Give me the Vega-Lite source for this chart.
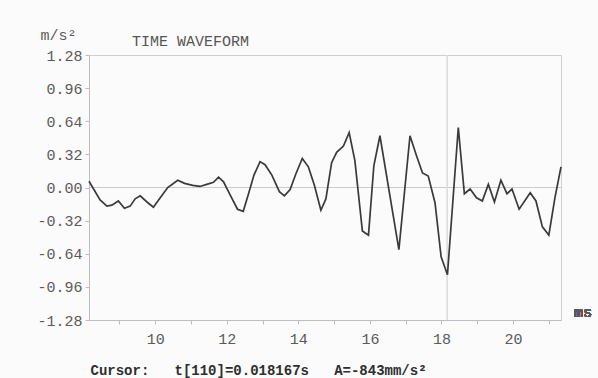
{
  "$schema": "https://vega.github.io/schema/vega-lite/v6.json",
  "autosize": {"type": "none"},
  "width": 472,
  "height": 265,
  "padding": {"left": 89, "top": 55, "right": 37, "bottom": 58},
  "background": "#fbfbfb",
  "title": {
    "text": "TIME WAVEFORM",
    "anchor": "start",
    "dx": 95,
    "offset": -22,
    "font": "Liberation Mono",
    "fontSize": 15,
    "fontWeight": "normal",
    "color": "#555555"
  },
  "config": {
    "view": {"stroke": "#cfcfcf", "strokeWidth": 1},
    "axis": {
      "labelFont": "Liberation Mono",
      "labelFontSize": 15,
      "labelColor": "#5a5a5a",
      "domainColor": "#bdbdbd",
      "tickColor": "#bdbdbd",
      "grid": false
    }
  },
  "data": {
    "values": [
      {"t": 8.15, "a": 0.06},
      {"t": 8.46, "a": -0.12},
      {"t": 8.65, "a": -0.18},
      {"t": 8.79, "a": -0.17},
      {"t": 8.97, "a": -0.13},
      {"t": 9.14, "a": -0.20},
      {"t": 9.30, "a": -0.18},
      {"t": 9.44, "a": -0.11},
      {"t": 9.58, "a": -0.08},
      {"t": 9.77, "a": -0.14},
      {"t": 9.95, "a": -0.19},
      {"t": 10.14, "a": -0.10},
      {"t": 10.35, "a": 0.0},
      {"t": 10.63, "a": 0.07},
      {"t": 10.82, "a": 0.04},
      {"t": 11.05, "a": 0.02},
      {"t": 11.25, "a": 0.01},
      {"t": 11.44, "a": 0.03},
      {"t": 11.63, "a": 0.05},
      {"t": 11.77, "a": 0.10},
      {"t": 11.91, "a": 0.055},
      {"t": 12.09, "a": -0.07},
      {"t": 12.30, "a": -0.21},
      {"t": 12.46, "a": -0.23},
      {"t": 12.60, "a": -0.07},
      {"t": 12.76, "a": 0.12},
      {"t": 12.93, "a": 0.25},
      {"t": 13.07, "a": 0.22},
      {"t": 13.26, "a": 0.12},
      {"t": 13.47, "a": -0.04},
      {"t": 13.61, "a": -0.08},
      {"t": 13.77, "a": -0.02},
      {"t": 13.93, "a": 0.13},
      {"t": 14.11, "a": 0.28},
      {"t": 14.28, "a": 0.20},
      {"t": 14.45, "a": 0.02},
      {"t": 14.63, "a": -0.22},
      {"t": 14.77, "a": -0.11},
      {"t": 14.93, "a": 0.24},
      {"t": 15.07, "a": 0.34},
      {"t": 15.26, "a": 0.40},
      {"t": 15.42, "a": 0.53},
      {"t": 15.58, "a": 0.26},
      {"t": 15.79, "a": -0.42},
      {"t": 15.96, "a": -0.46},
      {"t": 16.11, "a": 0.21},
      {"t": 16.28, "a": 0.50},
      {"t": 16.81, "a": -0.60},
      {"t": 17.12, "a": 0.50},
      {"t": 17.30, "a": 0.31},
      {"t": 17.47, "a": 0.14},
      {"t": 17.63, "a": 0.11},
      {"t": 17.82, "a": -0.15},
      {"t": 17.99, "a": -0.67},
      {"t": 18.167, "a": -0.843},
      {"t": 18.47, "a": 0.58},
      {"t": 18.64, "a": -0.06},
      {"t": 18.80, "a": -0.015},
      {"t": 18.98, "a": -0.10},
      {"t": 19.14, "a": -0.13},
      {"t": 19.31, "a": 0.03},
      {"t": 19.48, "a": -0.14},
      {"t": 19.66, "a": 0.07},
      {"t": 19.83, "a": -0.06},
      {"t": 19.97, "a": -0.015},
      {"t": 20.17, "a": -0.21},
      {"t": 20.48, "a": -0.05},
      {"t": 20.64, "a": -0.13},
      {"t": 20.82, "a": -0.38},
      {"t": 21.00, "a": -0.46},
      {"t": 21.17, "a": -0.10},
      {"t": 21.34, "a": 0.20}
    ]
  },
  "encoding": {
    "x": {
      "field": "t",
      "type": "quantitative",
      "scale": {"domain": [8.15, 21.34], "nice": false, "zero": false},
      "axis": {
        "values": [9, 10, 11, 12, 13, 14, 15, 16, 17, 18, 19, 20, 21],
        "labelExpr": "datum.value % 2 == 0 ? datum.label : ''",
        "tickSize": 4,
        "labelPadding": 7,
        "title": "Cursor:\u00a0\u00a0\u00a0t[110]=0.018167s\u00a0\u00a0\u00a0A=-843mm/s²",
        "titleFont": "Liberation Mono",
        "titleFontSize": 14,
        "titleFontWeight": "bold",
        "titleColor": "#2e2e2e",
        "titleAnchor": "start",
        "titleAlign": "left",
        "titleBaseline": "middle",
        "titleX": 1,
        "titleY": 50
      }
    },
    "y": {
      "field": "a",
      "type": "quantitative",
      "scale": {"domain": [-1.28, 1.28], "nice": false},
      "axis": {
        "values": [-1.28, -0.96, -0.64, -0.32, 0, 0.32, 0.64, 0.96, 1.28],
        "format": ".2f",
        "labelExpr": "replace(datum.label, '\u2212', '-')",
        "tickSize": 4,
        "labelPadding": 3,
        "title": "m/s²",
        "titleFont": "Liberation Mono",
        "titleFontSize": 15,
        "titleFontWeight": "normal",
        "titleColor": "#5a5a5a",
        "titleAngle": 0,
        "titleAlign": "left",
        "titleBaseline": "middle",
        "titleX": -49,
        "titleY": -21
      }
    }
  },
  "layer": [
    {
      "mark": {"type": "rule", "color": "#cccccc", "strokeWidth": 1},
      "encoding": {"y": {"datum": 0}, "x": null}
    },
    {
      "mark": {"type": "rule", "color": "#dddddd", "strokeWidth": 1},
      "encoding": {"x": {"datum": 18.167}, "y": null}
    },
    {
      "mark": {"type": "line", "color": "#3a3a3a", "strokeWidth": 1.7}
    },
    {
      "mark": {"type": "text", "font": "Liberation Mono", "fontSize": 15, "color": "#5a5a5a", "align": "center", "baseline": "middle", "dx": 22, "dy": -8},
      "encoding": {"x": {"datum": 21.34}, "y": {"datum": -1.28}, "text": {"value": "ms"}}
    }
  ]
}
